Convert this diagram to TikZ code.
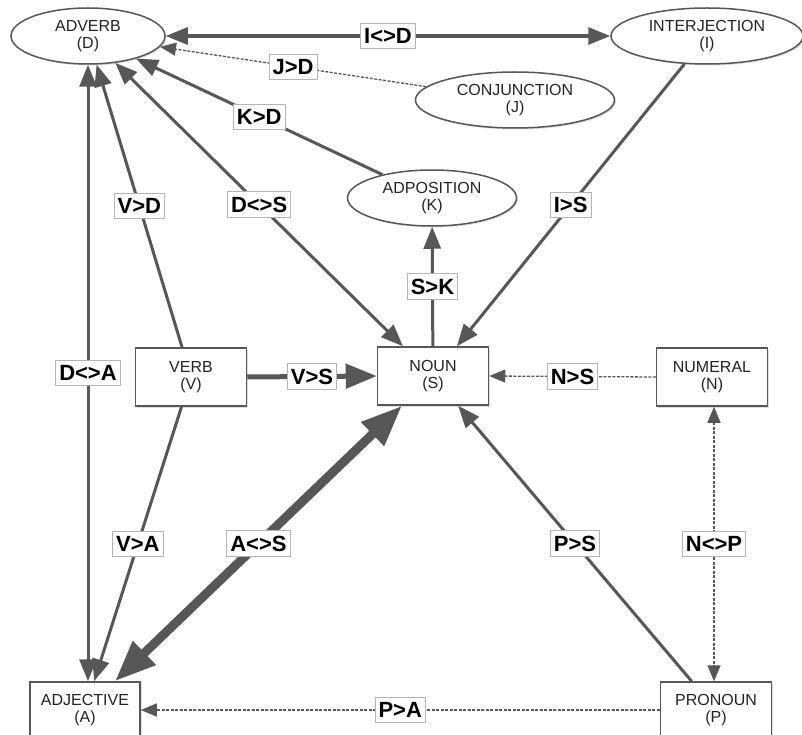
\documentclass[tikz,border=0pt]{standalone}
\usepackage{fontspec}
\setmainfont{Liberation Sans}
\usetikzlibrary{arrows.meta,shapes.geometric,shadows}
\definecolor{ln}{HTML}{575757}
\definecolor{lb}{HTML}{B4B4B4}
\definecolor{tx}{HTML}{222222}
\tikzset{
  Tn/.tip={Triangle[length=22pt,width=17pt]},
  Td/.tip={Triangle[length=16pt,width=13pt]},
  Tm/.tip={Triangle[length=31pt,width=24pt]},
  Tb/.tip={Triangle[length=41pt,width=31pt]},
}
\begin{document}
\begin{tikzpicture}[x=1pt,y=-1pt,
  word/.style={draw=ln, line width=1.5pt, fill=white, align=center,
    font=\fontsize{16}{17.5}\selectfont, text=tx, inner sep=0pt,
    drop shadow={shadow xshift=1.5pt, shadow yshift=-1.5pt, opacity=0.25}},
  wbox/.style={word, rectangle, minimum width=111pt, minimum height=58pt},
  wellip/.style={word, ellipse, minimum width=#1, minimum height=56pt},
  lab/.style={solid, draw=lb, line width=0.8pt, fill=white,
    font=\fontsize{22}{22}\selectfont\bfseries, text=black,
    inner xsep=3.5pt, inner ysep=5pt},
  rel/.style={draw=ln, line width=3pt, -Tn},
  relb/.style={draw=ln, line width=3pt, Tn-Tn},
  reld/.style={draw=ln, line width=1.3pt, dash pattern=on 3pt off 1.5pt, -Td},
  reldb/.style={draw=ln, line width=1.3pt, dash pattern=on 3pt off 1.5pt, Td-Td},
]
\useasboundingbox (0,0) rectangle (802,735);
\fill[white] (0,0) rectangle (802,735);

\node[wellip=154pt] (adverb) at (88,36) {ADVERB\\(D)};
\node[wellip=192pt] (interj) at (707,36) {INTERJECTION\\(I)};
\node[wellip=199pt] (conj) at (515,100) {CONJUNCTION\\(J)};
\node[wellip=169pt] (adpos) at (432,198) {ADPOSITION\\(K)};
\node[wbox] (verb) at (191,377) {VERB\\(V)};
\node[wbox] (noun) at (433,376) {NOUN\\(S)};
\node[wbox] (numeral) at (712,377) {NUMERAL\\(N)};
\node[wbox, minimum height=56pt, minimum width=110pt] (adjective) at (85,710) {ADJECTIVE\\(A)};
\node[wbox, minimum height=56pt] (pronoun) at (716,710) {PRONOUN\\(P)};

\draw[relb, line width=3.3pt] (adverb) -- node[lab]{I<>D} (interj);
\draw[reld] (conj) -- node[lab]{J>D} (adverb);
\draw[rel] (adpos) -- node[lab]{K>D} (adverb);
\draw[relb] (adverb) -- node[lab]{D<>S} (noun);
\draw[rel] (verb) -- node[lab]{V>D} (adverb);
\draw[relb] (adverb.south) -- node[lab]{D<>A} (adverb.south |- adjective.north);
\draw[rel] (verb) -- node[lab]{V>A} (adjective);
\draw[draw=ln, line width=9pt, Tb-Tb] (adjective) -- node[lab]{A<>S} (noun);
\draw[draw=ln, line width=5pt, -Tm] (verb.east) -- node[lab]{V>S} (noun.west);
\draw[rel] (noun) -- node[lab]{S>K} (adpos);
\draw[rel] (interj) -- node[lab]{I>S} (noun);
\draw[reld] (numeral.west) -- node[lab]{N>S} (noun.east);
\draw[reldb] ([xshift=2pt]numeral.south) -- node[lab]{N<>P} ([xshift=-2pt]pronoun.north);
\draw[rel] (pronoun) -- node[lab]{P>S} (noun);
\draw[reld] (pronoun.west) -- node[lab]{P>A} (adjective.east);
\end{tikzpicture}
\end{document}
